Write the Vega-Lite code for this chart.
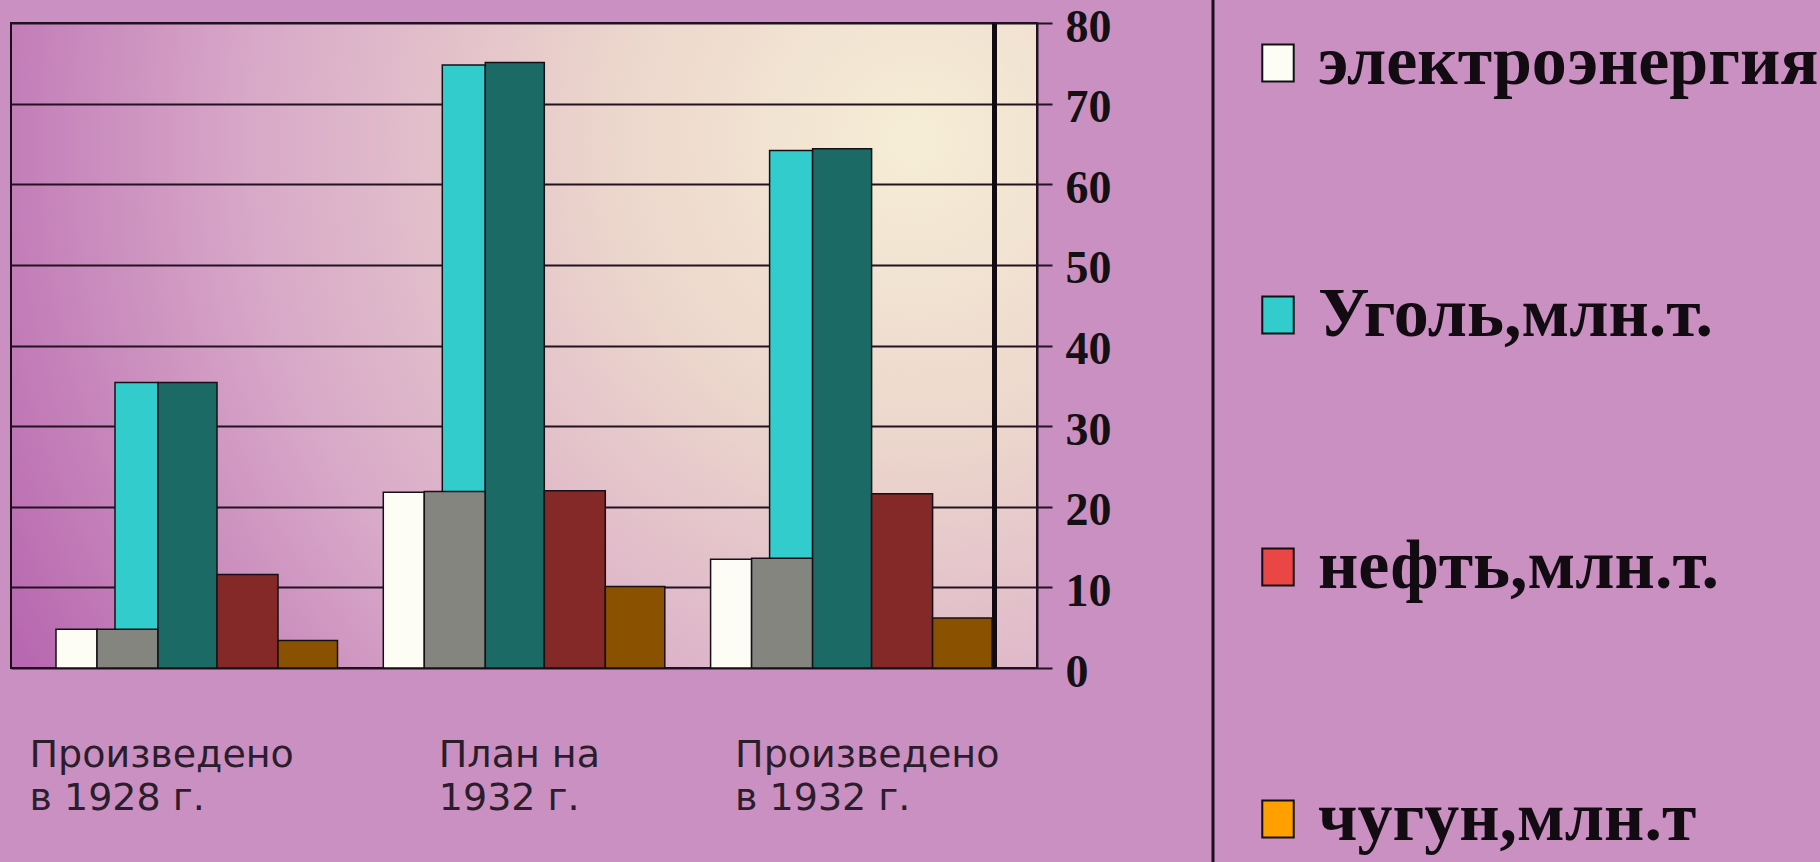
{
  "$schema": "https://vega.github.io/schema/vega-lite/v6.json",
  "autosize": {"type": "none"},
  "padding": {"left": 11, "top": 23, "right": 783, "bottom": 194},
  "width": 1026,
  "height": 645,
  "background": "#cb90c2",
  "data": {"values": [
    {"group": "Произведено в 1928 г.", "part": "Уголь,млн.т.", "value": 35.4},
    {"group": "Произведено в 1928 г.", "part": "электроэнергия", "value": 4.8},
    {"group": "Произведено в 1928 г.", "part": "электроэнергия (бок)", "value": 4.8},
    {"group": "Произведено в 1928 г.", "part": "Уголь (бок)", "value": 35.4},
    {"group": "Произведено в 1928 г.", "part": "нефть (бок)", "value": 11.6},
    {"group": "Произведено в 1928 г.", "part": "чугун (бок)", "value": 3.4},
    {"group": "План на 1932 г.", "part": "Уголь,млн.т.", "value": 74.8},
    {"group": "План на 1932 г.", "part": "электроэнергия", "value": 21.8},
    {"group": "План на 1932 г.", "part": "электроэнергия (бок)", "value": 21.9},
    {"group": "План на 1932 г.", "part": "Уголь (бок)", "value": 75.1},
    {"group": "План на 1932 г.", "part": "нефть (бок)", "value": 22.0},
    {"group": "План на 1932 г.", "part": "чугун (бок)", "value": 10.1},
    {"group": "Произведено в 1932 г.", "part": "Уголь,млн.т.", "value": 64.2},
    {"group": "Произведено в 1932 г.", "part": "электроэнергия", "value": 13.5},
    {"group": "Произведено в 1932 г.", "part": "электроэнергия (бок)", "value": 13.6},
    {"group": "Произведено в 1932 г.", "part": "Уголь (бок)", "value": 64.4},
    {"group": "Произведено в 1932 г.", "part": "нефть (бок)", "value": 21.6},
    {"group": "Произведено в 1932 г.", "part": "чугун (бок)", "value": 6.2}
  ]},
  "encoding": {
    "color": {
      "field": "part", "type": "nominal",
      "scale": {
        "domain": ["электроэнергия", "Уголь,млн.т.", "нефть,млн.т.", "чугун,млн.т", "электроэнергия (бок)", "Уголь (бок)", "нефть (бок)", "чугун (бок)"],
        "range": ["#fdfdf6", "#33cccc", "#ea4646", "#ffa000", "#858580", "#1b6a66", "#842828", "#8a5200"]
      },
      "legend": {
        "orient": "none", "legendX": 1202, "legendY": -25, "title": null,
        "values": ["электроэнергия", "Уголь,млн.т.", "нефть,млн.т.", "чугун,млн.т"],
        "padding": 30, "strokeColor": "#1a0f1a",
        "rowPadding": 182,
        "symbolType": "M-0.85,-1L0.85,-1L0.85,1L-0.85,1Z", "symbolSize": 1369,
        "symbolStrokeColor": "#111111", "symbolStrokeWidth": 2, "symbolOpacity": 1,
        "labelFont": "Liberation Serif", "labelFontWeight": "bold", "labelFontSize": 70,
        "labelColor": "#120c12", "labelOffset": 5, "labelLimit": 0,
        "encode": {"legend": {"update": {"strokeWidth": {"value": 3}}}}
      }
    }
  },
  "layer": [
    {
      "transform": [{"filter": {"field": "part", "equal": "Уголь,млн.т."}}],
      "mark": {"type": "bar", "stroke": "#151015", "strokeWidth": 1.5},
      "encoding": {
        "x": {"field": "group", "type": "nominal", "axis": null,
          "scale": {"domain": ["Произведено в 1928 г.", "План на 1932 г.", "Произведено в 1932 г."], "paddingInner": 0.86862, "paddingOuter": 0.50169, "align": 0.31669}},
        "y": {"field": "value", "type": "quantitative", "stack": null, "axis": null, "scale": {"domain": [0, 80], "nice": false}}
      }
    },
    {
      "transform": [{"filter": {"field": "part", "equal": "электроэнергия"}}],
      "mark": {"type": "bar", "stroke": "#151015", "strokeWidth": 1.5},
      "encoding": {
        "x": {"field": "group", "type": "nominal",
          "scale": {"domain": ["Произведено в 1928 г.", "План на 1932 г.", "Произведено в 1932 г."], "paddingInner": 0.87473, "paddingOuter": 0.504745, "align": 0.1362},
          "axis": {
            "orient": "bottom", "title": null, "domain": false, "ticks": false, "tickSize": 0, "grid": false,
            "labelAngle": 0, "labelAlign": "left", "labelBaseline": "top", "labelPadding": 68,
            "labelFont": "DejaVu Sans", "labelFontSize": 38, "labelLineHeight": 43, "labelColor": "#2b1d2b",
            "labelLimit": 0, "labelOverlap": false,
            "labelExpr": "datum.value == 'План на 1932 г.' ? ['План на', '1932 г.'] : ['Произведено', slice(datum.value, 12)]",
            "labelOffset": {"condition": [
              {"test": "datum.value === 'План на 1932 г.'", "value": 35},
              {"test": "datum.value === 'Произведено в 1932 г.'", "value": 4}
            ], "value": -47}
          }
        },
        "y": {"field": "value", "type": "quantitative", "stack": null, "scale": {"domain": [0, 80], "nice": false},
          "axis": {
            "orient": "right", "title": null, "values": [0, 10, 20, 30, 40, 50, 60, 70, 80],
            "grid": true, "gridColor": "#221222", "gridWidth": 2, "gridOpacity": 1,
            "domain": true, "domainColor": "#221222", "domainWidth": 2,
            "ticks": true, "tickSize": 15, "tickColor": "#221222", "tickWidth": 2,
            "labelFont": "Liberation Serif", "labelFontWeight": "bold", "labelFontSize": 46,
            "labelColor": "#141014", "labelPadding": 13, "labelOffset": 4
          }
        }
      }
    },
    {
      "transform": [{"filter": {"field": "part", "equal": "электроэнергия (бок)"}}],
      "mark": {"type": "bar", "stroke": "#151015", "strokeWidth": 1.5},
      "encoding": {
        "x": {"field": "group", "type": "nominal", "axis": null,
          "scale": {"domain": ["Произведено в 1928 г.", "План на 1932 г.", "Произведено в 1932 г."], "paddingInner": 0.81363, "paddingOuter": 0.474195, "align": 0.27706}},
        "y": {"field": "value", "type": "quantitative", "stack": null, "scale": {"domain": [0, 80], "nice": false},
          "axis": {
            "orient": "right", "offset": -43, "title": null, "grid": false, "ticks": false, "labels": false,
            "domain": true, "domainColor": "#120a12", "domainWidth": 5
          }
        }
      }
    },
    {
      "transform": [{"filter": {"field": "part", "equal": "Уголь (бок)"}}],
      "mark": {"type": "bar", "stroke": "#151015", "strokeWidth": 1.5},
      "encoding": {
        "x": {"field": "group", "type": "nominal", "axis": null,
          "scale": {"domain": ["Произведено в 1928 г.", "План на 1932 г.", "Произведено в 1932 г."], "paddingInner": 0.81974, "paddingOuter": 0.47725, "align": 0.47055}},
        "y": {"field": "value", "type": "quantitative", "stack": null, "axis": null, "scale": {"domain": [0, 80], "nice": false}}
      }
    },
    {
      "transform": [{"filter": {"field": "part", "equal": "нефть (бок)"}}],
      "mark": {"type": "bar", "stroke": "#151015", "strokeWidth": 1.5},
      "encoding": {
        "x": {"field": "group", "type": "nominal", "axis": null,
          "scale": {"domain": ["Произведено в 1928 г.", "План на 1932 г.", "Произведено в 1932 г."], "paddingInner": 0.81363, "paddingOuter": 0.474195, "align": 0.66366}},
        "y": {"field": "value", "type": "quantitative", "stack": null, "axis": null, "scale": {"domain": [0, 80], "nice": false}}
      }
    },
    {
      "transform": [{"filter": {"field": "part", "equal": "чугун (бок)"}}],
      "mark": {"type": "bar", "stroke": "#151015", "strokeWidth": 1.5},
      "encoding": {
        "x": {"field": "group", "type": "nominal", "axis": null,
          "scale": {"domain": ["Произведено в 1928 г.", "План на 1932 г.", "Произведено в 1932 г."], "paddingInner": 0.81821, "paddingOuter": 0.476485, "align": 0.85604}},
        "y": {"field": "value", "type": "quantitative", "stack": null, "axis": null, "scale": {"domain": [0, 80], "nice": false}}
      }
    }
  ],
  "resolve": {"scale": {"x": "independent"}, "axis": {"x": "independent", "y": "independent"}},
  "config": {
    "view": {
      "stroke": "#1c0f1c", "strokeWidth": 2,
      "fill": {"gradient": "radial", "x1": 0.88, "y1": 0.3, "r1": 0, "x2": 0.88, "y2": 0.3, "r2": 1.0,
        "stops": [
          {"offset": 0, "color": "#f6eed6"},
          {"offset": 0.3, "color": "#ecd6cc"},
          {"offset": 0.65, "color": "#d8a8c8"},
          {"offset": 1, "color": "#b868b0"}
        ]}
    }
  }
}
